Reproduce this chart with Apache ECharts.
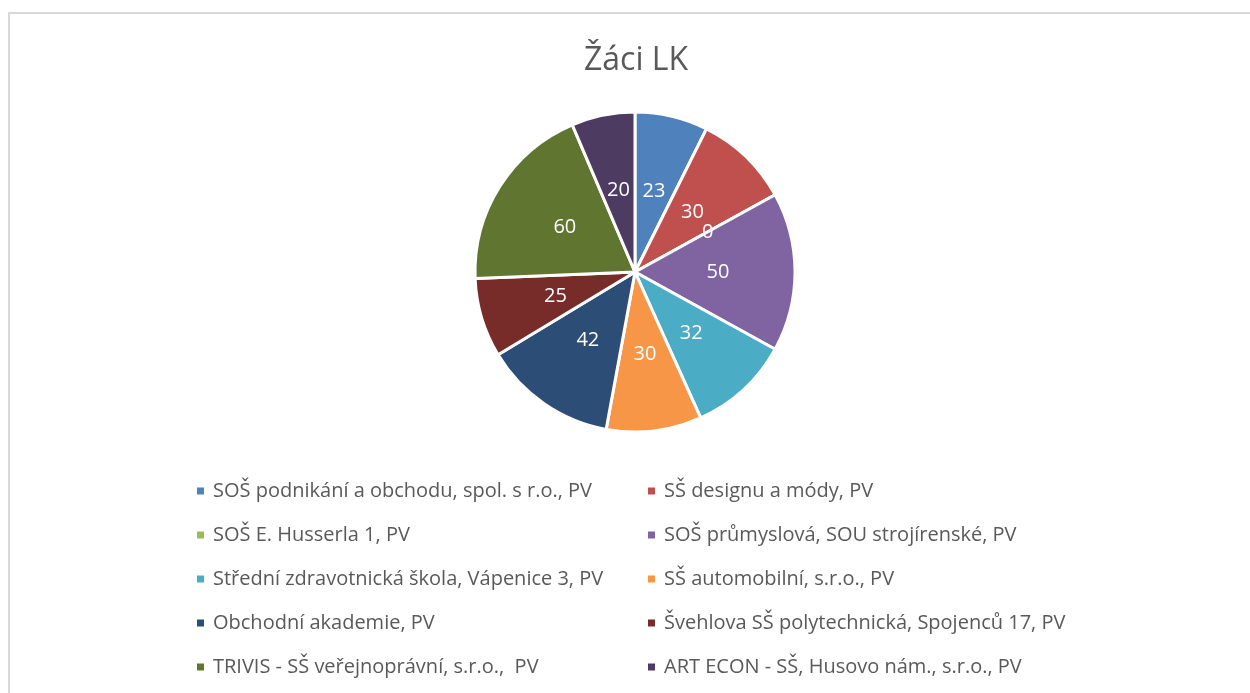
<!DOCTYPE html>
<html>
<head>
<meta charset="utf-8">
<script src="https://cdn.jsdelivr.net/npm/echarts@6/dist/echarts.min.js"></script>
<style>
  html, body { margin: 0; padding: 0; background: #fff; }
  #chart { width: 1250px; height: 693px; }
</style>
</head>
<body>
<div id="chart"></div>
<script>
  // skoly a pocty zaku
  var schools = [
    'SOŠ podnikání a obchodu, spol. s r.o., PV',
    'SŠ designu a módy, PV',
    'SOŠ E. Husserla 1, PV',
    'SOŠ průmyslová, SOU strojírenské, PV',
    'Střední zdravotnická škola, Vápenice 3, PV',
    'SŠ automobilní, s.r.o., PV',
    'Obchodní akademie, PV',
    'Švehlova SŠ polytechnická, Spojenců 17, PV',
    'TRIVIS - SŠ veřejnoprávní, s.r.o.,  PV',
    'ART ECON - SŠ, Husovo nám., s.r.o., PV'
  ];
  var pupils = [23, 30, 0, 50, 32, 30, 42, 25, 60, 20];
  var colors = ['#4F81BD', '#C0504D', '#9BBB59', '#8064A2', '#4BACC6',
                '#F79646', '#2C4D75', '#772C2A', '#5F7530', '#4D3B62'];

  var fontFam = '"Open Sans", "Noto Sans", sans-serif';

  var pieData = schools.map(function(s, i) {
    return { name: s, value: pupils[i] };
  });

  // legenda ve dvou sloupcich
  var leftNames = schools.filter(function(s, i) { return i % 2 === 0; });
  var rightNames = schools.filter(function(s, i) { return i % 2 === 1; });

  var legendBase = {
    orient: 'vertical',
    top: 474,
    icon: 'rect',
    itemWidth: 9,
    itemHeight: 9,
    itemGap: 20,
    textStyle: {
      color: '#595959',
      fontSize: 20,
      fontFamily: fontFam,
      lineHeight: 24,
      padding: [0, 0, 0, 3]
    },
    selectedMode: false
  };

  var chart = echarts.init(document.getElementById('chart'));
  chart.setOption({
    backgroundColor: '#ffffff',
    color: colors,
    animation: false,
    title: {
      text: 'Žáci LK',
      left: 579,
      top: 40,
      textStyle: {
        color: '#595959',
        fontSize: 32,
        fontWeight: 'normal',
        fontFamily: fontFam
      }
    },
    graphic: [{
      type: 'rect',
      shape: { x: 9, y: 13, width: 1300, height: 800 },
      style: { fill: 'none', stroke: '#D9D9D9', lineWidth: 2 },
      silent: true
    }],
    legend: [
      Object.assign({}, legendBase, { left: 190, data: leftNames }),
      Object.assign({}, legendBase, { left: 641, data: rightNames })
    ],
    series: [{
      type: 'pie',
      center: [635, 272],
      radius: [0, 160],
      startAngle: 90,
      clockwise: true,
      avoidLabelOverlap: false,
      data: pieData,
      itemStyle: { borderColor: '#ffffff', borderWidth: 3 },
      label: {
        show: true,
        position: 'inside',
        formatter: '{c}',
        color: '#ffffff',
        fontSize: 20,
        fontFamily: fontFam
      },
      labelLayout: { hideOverlap: false },
      labelLine: { show: false },
      emphasis: { disabled: true }
    }]
  });
</script>
</body>
</html>
